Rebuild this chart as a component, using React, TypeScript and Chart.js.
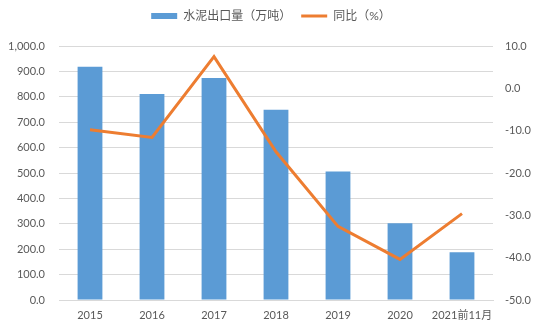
import React, { useEffect, useRef } from 'react';
import { Chart, registerables } from 'chart.js';
Chart.register(...registerables);

const categories = ['2015', '2016', '2017', '2018', '2019', '2020', '2021前11月'];
const exportVolume = [918, 811, 874, 749, 506, 302, 188];
const yoyChange = [-9.8, -11.6, 7.5, -15.0, -32.6, -40.4, -29.6];
const seriesNames = ['水泥出口量（万吨）', '同比（%）'];

const FONT = 'Lato, "Noto Sans CJK SC", sans-serif';
const TEXT = '#595959';
const BLUE = '#5B9BD5';
const ORANGE = '#ED7D31';

const legendGap = {
  id: 'legendGap',
  beforeUpdate(chart: any) {
    const lg = chart.legend;
    if (lg && !lg.__patched) {
      const orig = lg.fit;
      lg.fit = function () {
        orig.call(this);
        this.height += 14;
      };
      lg.__patched = true;
    }
  },
};

export default function App() {
  const ref = useRef<HTMLCanvasElement>(null);
  useEffect(() => {
    document.body.style.margin = '0';
    const chart = new Chart(ref.current!, {
      type: 'bar',
      plugins: [legendGap],
      data: {
        labels: categories,
        datasets: [
          {
            type: 'line',
            label: seriesNames[1],
            data: yoyChange,
            borderColor: ORANGE,
            backgroundColor: ORANGE,
            borderWidth: 3,
            pointRadius: 0,
            yAxisID: 'y1',
            order: 0,
          } as any,
          {
            type: 'bar',
            label: seriesNames[0],
            data: exportVolume,
            backgroundColor: BLUE,
            barPercentage: 0.4,
            categoryPercentage: 1,
            yAxisID: 'y',
            order: 1,
          },
        ],
      },
      options: {
        responsive: false,
        animation: false,
        layout: { padding: { top: 0 } },
        plugins: {
          tooltip: { enabled: false },
          legend: {
            position: 'top',
            labels: {
              font: { family: FONT, size: 12 },
              color: TEXT,
              usePointStyle: true,
              pointStyleWidth: 26,
              boxHeight: 6,
              padding: 10,
              generateLabels: () => [
                {
                  text: seriesNames[0],
                  fillStyle: BLUE,
                  strokeStyle: BLUE,
                  lineWidth: 0,
                  pointStyle: 'rect',
                  fontColor: TEXT,
                  datasetIndex: 1,
                } as any,
                {
                  text: seriesNames[1],
                  fillStyle: ORANGE,
                  strokeStyle: ORANGE,
                  lineWidth: 3,
                  pointStyle: 'line',
                  fontColor: TEXT,
                  datasetIndex: 0,
                } as any,
              ],
            },
          },
        },
        scales: {
          x: {
            grid: { display: false, drawTicks: false },
            border: { display: true, color: '#d9d9d9' },
            ticks: { font: { family: FONT, size: 11 }, color: TEXT, padding: 9, maxRotation: 0, autoSkip: false },
            afterFit: (s: any) => { s.height = 33; },
          },
          y: {
            position: 'left',
            min: 0,
            max: 1000,
            ticks: {
              stepSize: 100,
              font: { family: FONT, size: 11 },
              color: TEXT,
              padding: 14,
              callback: (v: any) => Number(v).toLocaleString('en-US', { minimumFractionDigits: 1, maximumFractionDigits: 1 }),
            },
            grid: { color: '#d9d9d9', drawTicks: false },
            border: { display: false },
            afterFit: (s: any) => { s.width = 59; },
          },
          y1: {
            position: 'right',
            min: -50,
            max: 10,
            ticks: {
              stepSize: 10,
              font: { family: FONT, size: 11 },
              color: TEXT,
              padding: 12,
              callback: (v: any) => Number(v).toFixed(1),
            },
            grid: { display: false, drawOnChartArea: false, drawTicks: false },
            border: { display: false },
            afterFit: (s: any) => { s.width = 49; },
          },
        },
      },
    });
    return () => chart.destroy();
  }, []);
  return (
    <div style={{ width: 542, height: 333, background: '#fff' }}>
      <canvas ref={ref} width={542} height={333} />
    </div>
  );
}
